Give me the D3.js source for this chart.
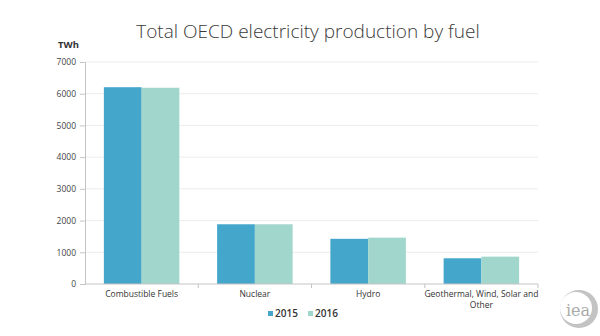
<!DOCTYPE html>
<html>
<head>
<meta charset="utf-8">
<script src="https://cdnjs.cloudflare.com/ajax/libs/d3/7.8.5/d3.min.js"></script>
<style>
  body { margin: 0; background: #fff; }
  svg { display: block; font-family: "Open Sans", "Noto Sans", sans-serif; }
</style>
</head>
<body>
<div id="chart"></div>
<script>
// electricity production, TWh
var fuels = ['Combustible Fuels', 'Nuclear', 'Hydro', 'Geothermal, Wind, Solar and Other'];
var years = ['2015', '2016'];
var prod2015 = [6205, 1883, 1425, 811];
var prod2016 = [6188, 1883, 1462, 863];
var yTicks = [0, 1000, 2000, 3000, 4000, 5000, 6000, 7000];
var colors = ['#43a6ca', '#a1d6cc'];

var fullWidth = 600, fullHeight = 336;
var margin = {top: 62, right: 62, bottom: 52, left: 85};
var width = fullWidth - margin.left - margin.right;
var height = fullHeight - margin.top - margin.bottom;

var svg = d3.select('#chart').append('svg')
  .attr('width', fullWidth)
  .attr('height', fullHeight);

svg.append('text')
  .attr('x', 308)
  .attr('y', 38)
  .attr('text-anchor', 'middle')
  .style('font-size', '19px')
  .style('font-weight', 300)
  .style('fill', '#3a3a3a')
  .text('Total OECD electricity production by fuel');

var g = svg.append('g')
  .attr('transform', 'translate(' + margin.left + ',' + margin.top + ')');

var x = d3.scaleBand()
  .domain(fuels)
  .range([0, width])
  .paddingInner(0)
  .paddingOuter(0);

// two bars per category, touching, with a gap either side
var inner = d3.scaleBand()
  .domain(years)
  .range([0, x.bandwidth()])
  .paddingOuter(0.5)
  .paddingInner(0);

var y = d3.scaleLinear()
  .domain([0, 7000])
  .range([height, 0]);

// gridlines
g.append('g')
  .selectAll('line')
  .data(yTicks.slice(1))
  .enter().append('line')
    .attr('x1', 0)
    .attr('x2', width)
    .attr('y1', function(d) { return y(d); })
    .attr('y2', function(d) { return y(d); })
    .attr('stroke', '#ececec')
    .attr('stroke-width', 1);

// bars
var series = [prod2015, prod2016];
series.forEach(function(vals, s) {
  g.append('g').selectAll('rect')
    .data(vals)
    .enter().append('rect')
      .attr('x', function(d, i) { return x(fuels[i]) + inner(years[s]); })
      .attr('width', inner.bandwidth())
      .attr('y', function(d) { return y(d); })
      .attr('height', function(d) { return height - y(d); })
      .attr('fill', colors[s]);
});

// y axis
var yAxis = g.append('g')
  .call(d3.axisLeft(y).tickValues(yTicks).tickFormat(d3.format('d')).tickSize(5).tickPadding(4));
yAxis.select('.domain').attr('stroke', '#c4c4c4');
yAxis.selectAll('.tick line').attr('stroke', '#c4c4c4');
yAxis.selectAll('.tick text')
  .style('font-size', '8.5px')
  .style('fill', '#444')
  .style('font-family', '"Open Sans", sans-serif');

// x axis, ticks on band boundaries
var xAxis = g.append('g')
  .attr('transform', 'translate(0,' + height + ')');
xAxis.append('line')
  .attr('x1', 0).attr('x2', width)
  .attr('stroke', '#c4c4c4');
xAxis.selectAll('line.tk')
  .data(fuels)
  .enter().append('line')
    .classed('tk', true)
    .attr('x1', function(d) { return x(d) + x.bandwidth(); })
    .attr('x2', function(d) { return x(d) + x.bandwidth(); })
    .attr('y1', 0).attr('y2', 4)
    .attr('stroke', '#c4c4c4');

var labels = xAxis.selectAll('text')
  .data(fuels)
  .enter().append('text')
    .attr('x', function(d) { return x(d) + x.bandwidth() / 2; })
    .attr('y', 13)
    .attr('text-anchor', 'middle')
    .style('font-size', '8.5px')
    .style('fill', '#333');
labels.each(function(d) {
  var el = d3.select(this);
  var lines = d.indexOf('and Other') > 0 ? ['Geothermal, Wind, Solar and', 'Other'] : [d];
  lines.forEach(function(t, k) {
    el.append('tspan')
      .attr('x', x(d) + x.bandwidth() / 2)
      .attr('dy', k === 0 ? 0 : 11)
      .text(t);
  });
});

svg.append('text')
  .attr('x', 58)
  .attr('y', 48)
  .style('font-size', '9.5px')
  .style('font-weight', 700)
  .style('fill', '#333')
  .text('TWh');

// legend
var legend = svg.append('g')
  .attr('transform', 'translate(268,317)');
var items = legend.selectAll('g')
  .data(years)
  .enter().append('g')
    .attr('transform', function(d, i) { return 'translate(' + (i * 40) + ',0)'; });
items.append('rect')
  .attr('x', 0).attr('y', -6)
  .attr('width', 5).attr('height', 5)
  .attr('fill', function(d, i) { return colors[i]; });
items.append('text')
  .attr('x', 7)
  .attr('y', 0)
  .style('font-size', '10px')
  .style('font-weight', 600)
  .style('fill', '#333')
  .text(function(d) { return d; });

// iea mark
var logo = svg.append('g').attr('transform', 'translate(579,309)');
logo.append('circle').attr('r', 19).attr('fill', '#c3c3c3');
logo.append('circle').attr('cx', -3).attr('cy', -1).attr('r', 16).attr('fill', '#fff');
logo.append('text')
  .attr('x', -1)
  .attr('y', 7)
  .attr('text-anchor', 'middle')
  .style('font-size', '16px')
  .style('font-weight', 400)
  .style('font-family', '"DejaVu Serif", serif')
  .style('fill', '#aaa')
  .text('iea');
</script>
</body>
</html>
